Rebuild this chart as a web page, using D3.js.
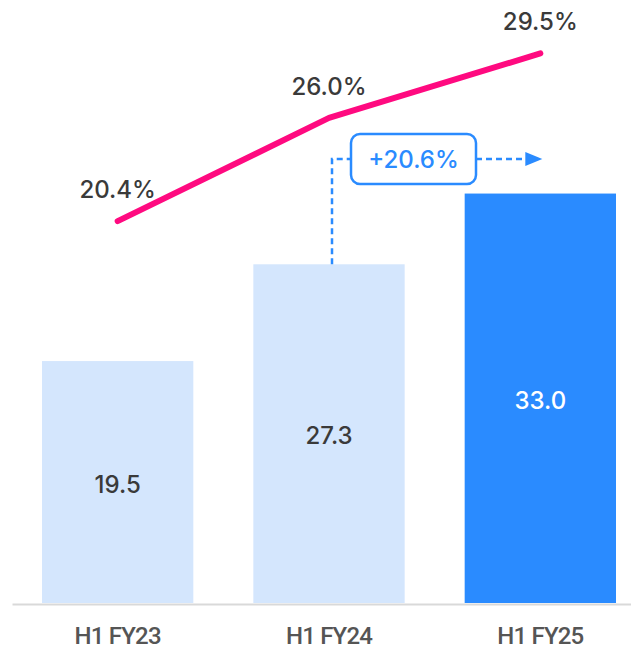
<!DOCTYPE html>
<html>
<head>
<meta charset="utf-8">
<script src="https://cdn.jsdelivr.net/npm/d3@7"></script>
<style>
  html, body { margin: 0; padding: 0; background: #fff; }
  svg { display: block; }
</style>
</head>
<body>
<svg id="chart" width="631" height="650"></svg>
<script>
// Half-year revenue (bars) with margin trend (line)
const categories   = ["H1 FY23", "H1 FY24", "H1 FY25"];
const barValues    = [19.5, 27.3, 33.0];
const barLabels    = ["19.5", "27.3", "33.0"];
const marginValues = [20.4, 26.0, 29.5];
const marginLabels = ["20.4%", "26.0%", "29.5%"];
const growthLabel  = "+20.6%";

const W = 631, H = 650;
const baseline = 603;

const lightBlue = "#d4e6fd";
const brightBlue = "#2a8bff";
const pink = "#ff0a80";
const numFont = "Inter, 'Open Sans', sans-serif";

const svg = d3.select("#chart");

const x = d3.scaleBand()
  .domain(categories)
  .range([12, 646])
  .paddingInner(0.284)
  .paddingOuter(0.142);

const y = d3.scaleLinear().domain([0, 48.6]).range([baseline, 0]);
const yLine = d3.scaleLinear().domain([0, 32.4]).range([597, 0]);

const cx = c => x(c) + x.bandwidth() / 2;

// Bars
svg.append("g").selectAll("rect")
  .data(categories)
  .join("rect")
  .attr("x", d => x(d))
  .attr("y", (d, i) => y(barValues[i]))
  .attr("width", x.bandwidth())
  .attr("height", (d, i) => y(0) - y(barValues[i]))
  .attr("fill", (d, i) => i === categories.length - 1 ? brightBlue : lightBlue);

// Bar value labels
svg.append("g").selectAll("text")
  .data(categories)
  .join("text")
  .attr("x", d => cx(d))
  .attr("y", (d, i) => (y(barValues[i]) + y(0)) / 2 + 2)
  .attr("dy", "0.36em")
  .attr("text-anchor", "middle")
  .attr("font-family", numFont)
  .attr("font-weight", 500)
  .attr("font-size", 24)
  .attr("fill", (d, i) => i === categories.length - 1 ? "#ffffff" : "#3a3a3a")
  .text((d, i) => barLabels[i]);

// X axis
const axis = svg.append("g")
  .attr("transform", `translate(0,${baseline + 1})`)
  .call(d3.axisBottom(x).tickSize(0).tickSizeOuter(0).tickPadding(23));
axis.select(".domain").attr("stroke", "#d9d9d9").attr("stroke-width", 2);
axis.selectAll("text")
  .attr("font-family", "Roboto, sans-serif")
  .attr("font-weight", 500)
  .attr("font-size", 24)
  .attr("letter-spacing", "-0.8")
  .attr("fill", "#555555");

// Growth annotation: dashed connector from FY24 bar to FY25
const x2 = cx(categories[1]) + 3;
const x3 = cx(categories[2]);
const yConn = 159;
const boxL = x2 + 19, boxR = boxL + 125, boxT = 134, boxB = 184;

const ann = svg.append("g");
ann.append("path")
  .attr("d", `M${x2},${y(barValues[1])}V${yConn}H${boxL}`)
  .attr("fill", "none")
  .attr("stroke", brightBlue)
  .attr("stroke-width", 2.5)
  .attr("stroke-dasharray", "6,4");
ann.append("path")
  .attr("d", `M${boxR},${yConn}H${x3 - 14}`)
  .attr("fill", "none")
  .attr("stroke", brightBlue)
  .attr("stroke-width", 2.5)
  .attr("stroke-dasharray", "6,4");
ann.append("path")
  .attr("d", `M${x3 - 15},${yConn - 7}L${x3 + 2},${yConn}L${x3 - 15},${yConn + 7}Z`)
  .attr("fill", brightBlue);
ann.append("rect")
  .attr("x", boxL).attr("y", boxT)
  .attr("width", boxR - boxL).attr("height", boxB - boxT)
  .attr("rx", 9)
  .attr("fill", "#ffffff")
  .attr("stroke", brightBlue)
  .attr("stroke-width", 2.5);
ann.append("text")
  .attr("x", (boxL + boxR) / 2)
  .attr("y", yConn)
  .attr("dy", "0.36em")
  .attr("text-anchor", "middle")
  .attr("font-family", numFont)
  .attr("font-weight", 500)
  .attr("font-size", 24)
  .attr("fill", brightBlue)
  .text(growthLabel);

// Margin line
const line = d3.line()
  .x((d, i) => cx(categories[i]))
  .y(d => yLine(d));
svg.append("path")
  .datum(marginValues)
  .attr("d", line)
  .attr("fill", "none")
  .attr("stroke", pink)
  .attr("stroke-width", 6)
  .attr("stroke-linecap", "round")
  .attr("stroke-linejoin", "round");

// Margin labels
svg.append("g").selectAll("text")
  .data(marginValues)
  .join("text")
  .attr("x", (d, i) => cx(categories[i]))
  .attr("y", d => yLine(d) - 23)
  .attr("text-anchor", "middle")
  .attr("font-family", numFont)
  .attr("font-weight", 500)
  .attr("font-size", 24)
  .attr("fill", "#3a3a3a")
  .text((d, i) => marginLabels[i]);
</script>
</body>
</html>
